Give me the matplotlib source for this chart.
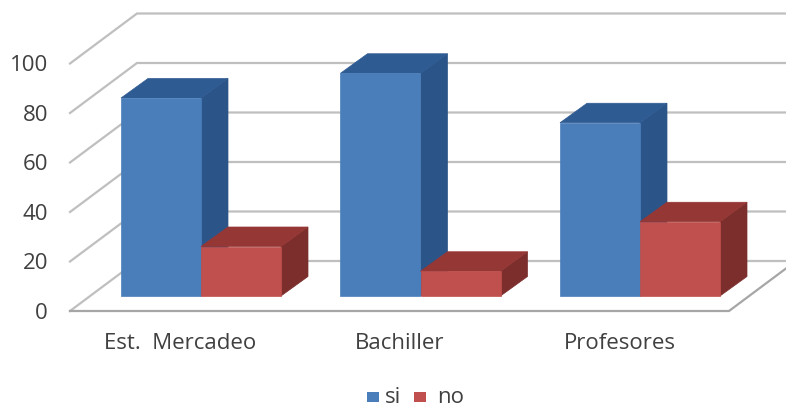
import matplotlib
matplotlib.use("Agg")
import matplotlib.pyplot as plt
from matplotlib.patches import Polygon, Rectangle

plt.rcParams['font.family'] = ['Open Sans', 'DejaVu Sans']

categories = ["Est.  Mercadeo", "Bachiller", "Profesores"]
si_values = [80, 90, 70]
no_values = [20, 10, 30]
ticks = [0, 20, 40, 60, 80, 100]

# escala: pixeles por unidad de valor y por categoria
PX_VALUE = 2.475
PX_CAT = 219.5
X0_PX, Y0_PX = 201.0, 297.0
WIDTH, HEIGHT = 786, 410

BAR_W = 80 / PX_CAT
BAR_DX = 27 / PX_CAT
BAR_DY = 19.5 / PX_VALUE
# suelo y paredes del grafico 3D
FLOOR_Y = -15 / PX_VALUE
WALL_X = (70 - X0_PX) / PX_CAT
WALL_DX = 67 / PX_CAT
WALL_DY = 50 / PX_VALUE
FLOOR_END = (729 - X0_PX) / PX_CAT
GRID = "#bfbfbf"

BLUE = ("#4a7ebb", "#2f5b93", "#2b5589")
RED = ("#c0504d", "#953735", "#7b2e2c")

fig = plt.figure(figsize=(WIDTH / 100, HEIGHT / 100), dpi=100)
ax = fig.add_axes([0, 0, 1, 1])
ax.set_xlim(-X0_PX / PX_CAT, (WIDTH - X0_PX) / PX_CAT)
ax.set_ylim((Y0_PX - HEIGHT) / PX_VALUE, Y0_PX / PX_VALUE)
ax.axis("off")


def draw_bar(x, value, colors):
    front, top, side = colors
    # borde fino del mismo color para que no queden costuras entre caras
    ax.add_patch(Polygon([(x + BAR_W, 0), (x + BAR_W + BAR_DX, BAR_DY),
                          (x + BAR_W + BAR_DX, value + BAR_DY), (x + BAR_W, value)],
                         facecolor=side, edgecolor=side, lw=0.5, zorder=3))
    ax.add_patch(Polygon([(x, value), (x + BAR_DX, value + BAR_DY),
                          (x + BAR_W + BAR_DX, value + BAR_DY), (x + BAR_W, value)],
                         facecolor=top, edgecolor=top, lw=0.5, zorder=3))
    ax.add_patch(Rectangle((x, 0), BAR_W, value, facecolor=front, edgecolor=front, lw=0.5, zorder=3))


# lineas de la cuadricula: pared izquierda y pared del fondo
right_edge = ax.get_xlim()[1]
for t in ticks:
    y = t + FLOOR_Y
    ax.plot([WALL_X, WALL_X + WALL_DX, right_edge], [y, y + WALL_DY, y + WALL_DY],
            color=GRID, lw=1.6, zorder=1, solid_joinstyle="miter")
    ax.text((48 - X0_PX) / PX_CAT, y - 0.5, str(t), ha="right", va="center",
            fontsize=16, color="#404040")

# borde frontal y lateral del suelo
ax.plot([WALL_X, FLOOR_END, FLOOR_END + WALL_DX],
        [FLOOR_Y, FLOOR_Y, FLOOR_Y + WALL_DY],
        color="#a6a6a6", lw=1.6, zorder=1, solid_joinstyle="miter")

for i, name in enumerate(categories):
    draw_bar(i - BAR_W, si_values[i], BLUE)
    draw_bar(i, no_values[i], RED)
    ax.text(i - 0.093, -18.6, name, ha="center", va="center",
            fontsize=16, color="#404040")

# leyenda
leg_y = (Y0_PX - 398) / PX_VALUE
for px, text_px, color, label in [(367, 385, BLUE[0], "si"), (414, 437, RED[0], "no")]:
    x = (px - X0_PX) / PX_CAT
    ax.add_patch(Rectangle((x, leg_y - 2), 12 / PX_CAT, 4, facecolor=color, edgecolor="none"))
    ax.text((text_px - X0_PX) / PX_CAT, leg_y, label, ha="left", va="center",
            fontsize=16, color="#404040")

fig.savefig("out.png", dpi=100)
